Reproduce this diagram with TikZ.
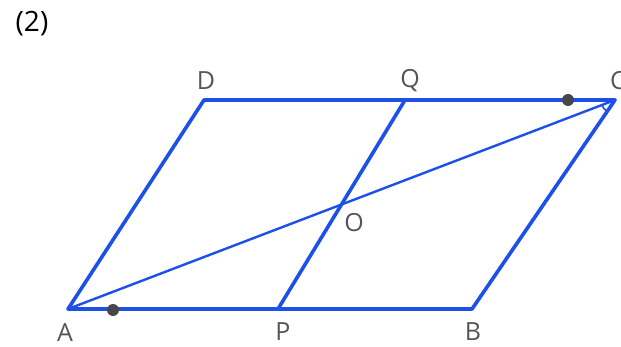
\documentclass[tikz,border=0pt]{standalone}
\usepackage{fontspec}
\setmainfont{Open Sans}
\usetikzlibrary{calc}
\definecolor{edgeblue}{RGB}{28,80,232}
\definecolor{lblgray}{RGB}{85,85,85}
\definecolor{dotgray}{RGB}{70,70,75}
\begin{document}
\begin{tikzpicture}[x=1pt,y=-1pt,
  edge/.style={draw=edgeblue,line width=3.6pt,line join=round,line cap=round},
  thin/.style={draw=edgeblue,line width=2.4pt,line cap=round},
  lbl/.style={text=lblgray,font=\fontsize{25}{25}\selectfont,inner sep=0pt},
  mark dot/.style={fill=dotgray,circle,minimum size=12pt,inner sep=0pt}]
\useasboundingbox (0,0) rectangle (621,347);
\fill[white] (0,0) rectangle (621,347);
\coordinate (A) at (68,309);
\coordinate (B) at (472,309);
\coordinate (C) at (615,100);
\coordinate (D) at (204,100);
\coordinate (P) at (278,309);
\coordinate (Q) at (405,100);
\coordinate (O) at ($(A)!0.5!(C)$);
\draw[thin] (A) -- (C);
\draw[edge] (P) -- (Q);
\draw[edge] (A) -- (B) -- (C) -- (D) -- cycle;
\draw[draw=edgeblue,line width=1.6pt] ($(C)!14pt!(A)$) arc[start angle=200.9,end angle=235.2,radius=14pt];
\node[mark dot] (m1) at (568,100) {};
\node[mark dot] (m2) at (113,310) {};
\node[lbl] (lA) at (65,333) {A};
\node[lbl] (lB) at (473,332) {B};
\node[lbl] (lP) at (283,332) {P};
\node[lbl] (lD) at (206,81) {D};
\node[lbl] (lQ) at (410,81) {Q};
\node[lbl] (lC) at (618,81) {C};
\node[lbl] (lO) at (354,223) {O};
\node[text=black,font=\fontsize{28}{28}\selectfont,inner sep=0pt] (n2) at (32,24) {(2)};
\end{tikzpicture}
\end{document}
